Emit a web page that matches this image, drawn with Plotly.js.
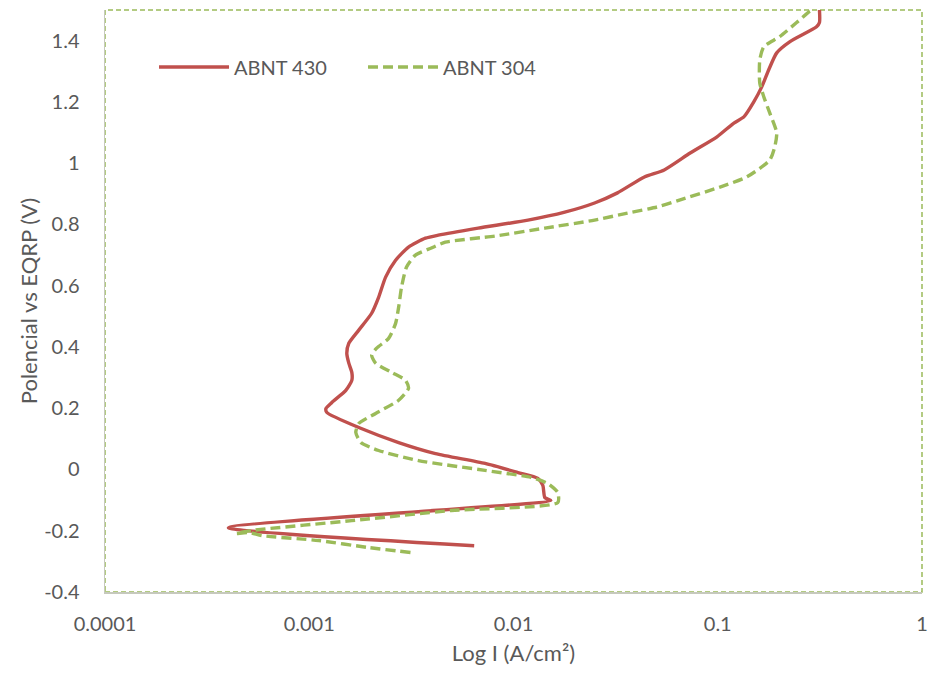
<!DOCTYPE html>
<html>
<head>
<meta charset="utf-8">
<script src="https://cdn.plot.ly/plotly-3.0.1.min.js"></script>
<style>html,body{margin:0;padding:0;background:#fff;}#chart{width:928px;height:677px;}</style>
</head>
<body>
<div id="chart"></div>
<script>
// ABNT 430 (red, solid)
const abnt430_I = [0.00642,0.000402,0.01523,0.01424,0.01392,0.01316,0.01052,0.00726,0.00415,0.00274,0.001748,0.001220,0.001207,0.001291,0.001510,0.001616,0.001616,0.001562,0.001527,0.001562,0.001748,0.002021,0.002186,0.002365,0.002647,0.003062,0.003705,0.004285,0.006714,0.01177,0.01782,0.02494,0.03229,0.04373,0.05471,0.07324,0.09915,0.1200,0.1342,0.1501,0.1642,0.1777,0.1944,0.2249,0.3045,0.3148,0.3148];
const abnt430_E = [-0.249,-0.190,-0.101,-0.092,-0.052,-0.029,-0.010,0.020,0.052,0.088,0.137,0.186,0.199,0.219,0.258,0.291,0.317,0.347,0.379,0.412,0.455,0.510,0.562,0.628,0.683,0.726,0.755,0.765,0.788,0.814,0.840,0.870,0.903,0.955,0.978,1.033,1.086,1.131,1.151,1.200,1.249,1.305,1.360,1.396,1.445,1.459,1.500];
// ABNT 304 (green, dashed)
const abnt304_I = [0.003131,0.001955,0.001115,0.000589,0.000509,0.000440,0.000526,0.001616,0.004961,0.01647,0.01647,0.01473,0.01217,0.00726,0.003424,0.002186,0.001790,0.001690,0.001748,0.002114,0.00274,0.003062,0.002961,0.002530,0.002114,0.002021,0.002138,0.002447,0.002647,0.00274,0.002830,0.002995,0.003311,0.003964,0.004638,0.008127,0.01424,0.02494,0.03613,0.05058,0.06549,0.1026,0.1388,0.1797,0.1901,0.1944,0.1797,0.1680,0.1606,0.1606,0.1680,0.2011,0.2433,0.2813,0.2921];
const abnt304_E = [-0.271,-0.255,-0.232,-0.216,-0.206,-0.209,-0.199,-0.167,-0.134,-0.108,-0.075,-0.046,-0.026,-0.003,0.029,0.062,0.088,0.121,0.150,0.183,0.226,0.265,0.291,0.317,0.347,0.373,0.396,0.428,0.477,0.530,0.595,0.661,0.700,0.723,0.742,0.762,0.788,0.814,0.837,0.857,0.880,0.922,0.955,1.010,1.053,1.099,1.164,1.217,1.262,1.337,1.380,1.413,1.459,1.495,1.500];

const xTickVals = [0.0001,0.001,0.01,0.1,1];
const xTickText = ['0.0001','0.001','0.01','0.1','1'];
const yTickVals = [-0.4,-0.2,0,0.2,0.4,0.6,0.8,1,1.2,1.4];
const yTickText = ['-0.4','-0.2','0','0.2','0.4','0.6','0.8','1','1.2','1.4'];

const FONT = 'Lato, Open Sans, sans-serif';
const traces = [
  {x: abnt430_I, y: abnt430_E, name: 'ABNT 430', type: 'scatter', mode: 'lines',
   line: {color: '#C0504D', width: 3.4, shape: 'spline', smoothing: 0.6}},
  {x: abnt304_I, y: abnt304_E, name: 'ABNT 304', type: 'scatter', mode: 'lines',
   line: {color: '#9BBB59', width: 3.4, dash: '10px,5px', shape: 'spline', smoothing: 0.6}}
];
const layout = {
  width: 928, height: 677,
  margin: {l: 105, r: 6, t: 10, b: 85},
  paper_bgcolor: '#fff', plot_bgcolor: '#fff',
  font: {family: FONT, color: '#595959', size: 20},
  showlegend: true,
  legend: {orientation: 'h', x: 0.06, y: 0.902, xanchor: 'left', yanchor: 'middle',
           itemwidth: 70, entrywidth: 124, entrywidthmode: 'pixels',
           font: {size: 20, color: '#595959'}, bgcolor: 'rgba(0,0,0,0)'},
  xaxis: {type: 'log', range: [-4, 0], tickvals: xTickVals, ticktext: xTickText,
          showgrid: false, zeroline: false, showline: true, linecolor: '#c6c9bd', linewidth: 1.5,
          ticks: '', ticklabelstandoff: 13, ticklabeloverflow: 'allow',
          tickfont: {size: 20, color: '#595959'},
          title: {text: 'Log I (A/cm²)', font: {size: 22, color: '#595959'}, standoff: 12}},
  yaxis: {range: [-0.4, 1.5], tickvals: yTickVals, ticktext: yTickText,
          showgrid: false, zeroline: false, showline: true, linecolor: '#c6c9bd', linewidth: 1.5,
          ticks: '', ticklabelstandoff: 20, tickfont: {size: 20, color: '#595959'},
          title: {text: 'Polencial vs EQRP (V)', font: {size: 22, color: '#595959'}, standoff: 0}},
  shapes: [{type: 'rect', xref: 'paper', yref: 'paper', x0: 0, x1: 1, y0: 0, y1: 1,
            line: {color: '#9BBB59', width: 1.5, dash: '5px,3px'}, layer: 'below'}]
};
Plotly.newPlot('chart', traces, layout, {displayModeBar: false, staticPlot: true});
</script>
</body>
</html>
